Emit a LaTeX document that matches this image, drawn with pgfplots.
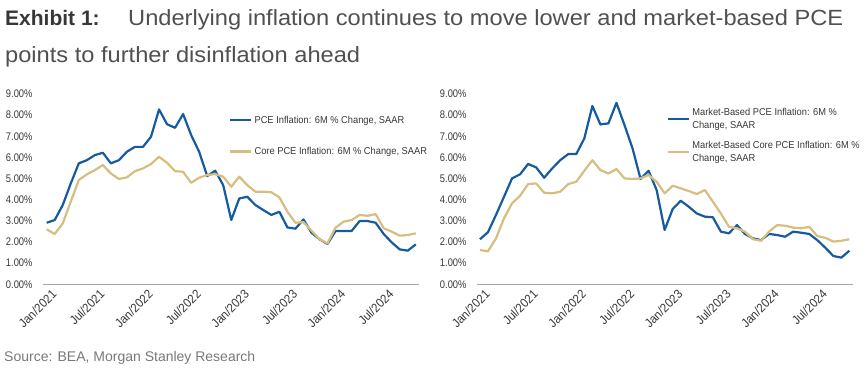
\documentclass[border=0pt]{standalone}
\usepackage{pgfplots}
\pgfplotsset{compat=1.18}
\usepackage{pgfplotstable}
\usepackage{fontspec}
\setmainfont{Liberation Sans}
\newfontfamily\narrow[FakeStretch=0.85]{Liberation Sans}
\newfontfamily\legfont[FakeStretch=0.93]{Liberation Sans}
\newfontfamily\xfont[FakeStretch=0.92]{Liberation Sans}
\newfontfamily\titlefont[FakeStretch=1.075]{Liberation Sans}
\definecolor{msblue}{RGB}{22,90,160}
\definecolor{msgold}{RGB}{213,190,128}
\definecolor{axgray}{RGB}{166,166,166}
\definecolor{txt}{RGB}{55,55,55}
\definecolor{ttl}{RGB}{80,80,80}
\definecolor{srcgray}{RGB}{120,120,120}

\pgfplotstableread{
m pce core
0 2.91 2.60
1 3.04 2.38
2 3.75 2.88
3 4.77 3.91
4 5.72 4.93
5 5.87 5.20
6 6.11 5.40
7 6.22 5.64
8 5.72 5.24
9 5.87 4.98
10 6.27 5.06
11 6.50 5.35
12 6.50 5.48
13 6.98 5.69
14 8.27 6.03
15 7.57 5.75
16 7.40 5.35
17 8.05 5.32
18 7.06 4.80
19 6.27 5.04
20 5.12 5.17
21 5.37 5.21
22 4.69 5.09
23 3.04 4.61
24 4.06 5.09
25 4.14 4.69
26 3.75 4.38
27 3.51 4.38
28 3.28 4.35
29 3.43 4.11
30 2.69 3.43
31 2.63 2.91
32 3.07 2.94
33 2.44 2.54
34 2.13 2.13
35 1.91 1.94
36 2.52 2.68
37 2.52 2.96
38 2.52 3.04
39 2.99 3.28
40 2.99 3.24
41 2.91 3.32
42 2.38 2.65
43 1.98 2.49
44 1.65 2.30
45 1.59 2.33
46 1.89 2.41
}\lefttab

\pgfplotstableread{
m pce core
0 2.13 1.62
1 2.46 1.56
2 3.28 2.17
3 4.14 3.12
4 5.01 3.83
5 5.20 4.19
6 5.69 4.74
7 5.53 4.77
8 5.04 4.33
9 5.48 4.30
10 5.87 4.38
11 6.16 4.74
12 6.16 4.85
13 6.90 5.37
14 8.43 5.87
15 7.56 5.40
16 7.61 5.24
17 8.58 5.45
18 7.53 5.01
19 6.43 4.98
20 4.98 5.01
21 5.37 5.17
22 4.46 4.85
23 2.57 4.30
24 3.56 4.66
25 3.95 4.54
26 3.67 4.41
27 3.35 4.27
28 3.20 4.46
29 3.17 3.91
30 2.49 3.35
31 2.41 2.72
32 2.80 2.65
33 2.38 2.49
34 2.17 2.13
35 2.09 2.06
36 2.38 2.49
37 2.33 2.80
38 2.25 2.77
39 2.49 2.68
40 2.44 2.65
41 2.38 2.72
42 2.09 2.28
43 1.73 2.20
44 1.34 2.02
45 1.26 2.06
46 1.59 2.13
}\righttab

\pgfplotsset{
  msaxis/.style={
    scale only axis, width=376.3pt, height=190.3pt,
    xmin=-0.5, xmax=46.4, ymin=0, ymax=9,
    ytick={0,1,...,9},
    xtick={0,6,...,42},
    xticklabels={Jan/2021,Jul/2021,Jan/2022,Jul/2022,Jan/2023,Jul/2023,Jan/2024,Jul/2024},
    axis x line*=bottom, axis y line*=left,
    y axis line style={draw=none},
    x axis line style={axgray, line width=1.5pt},
    major tick length=0pt,
    /pgf/number format/assume math mode=true,
    yticklabel={\pgfmathprintnumber[fixed,fixed zerofill,precision=2]{\tick}\%},
    yticklabel style={font=\narrow\fontsize{11}{13}\selectfont, text=txt, anchor=east, inner sep=0pt, xshift=-10pt},
    xticklabel style={font=\xfont\fontsize{12.5}{14}\selectfont, text=txt, rotate=45, anchor=north east, inner sep=0pt, yshift=-6pt},
    clip=false,
    legend cell align=left,
    legend style={draw=none, fill=none, inner sep=0pt,
      font=\legfont\fontsize{10}{12.7}\selectfont, text=txt,
      cells={align=left}},
    legend image code/.code={\draw[#1, line width=2.4pt] (0pt,0pt) -- (21pt,0pt);},
  }
}

\begin{document}
\begin{tikzpicture}
\path[use as bounding box] (0,0) rectangle (867pt,374pt);

\node[anchor=base west, inner sep=0pt, font=\fontsize{21}{24}\selectfont\bfseries, text=txt] at (5pt,348pt) {Exhibit 1:};
\node[anchor=base west, inner sep=0pt, font=\titlefont\fontsize{22}{26}\selectfont, text=ttl] at (128pt,348pt) {Underlying inflation continues to move lower and market-based PCE};
\node[anchor=base west, inner sep=0pt, font=\titlefont\fontsize{22}{26}\selectfont, text=ttl] at (5pt,311pt) {points to further disinflation ahead};
\node[anchor=base west, inner sep=0pt, font=\fontsize{14}{16}\selectfont, text=srcgray] at (4pt,12pt) {Source: BEA, Morgan Stanley Research};

\begin{axis}[msaxis, at={(42.7pt,89.7pt)}, anchor=south west,
  legend style={at={(0.495,0.897)}, anchor=north west, row sep=18.5pt}]
\addplot[msblue, line width=2.2pt, line join=round] table[x=m,y=pce]{\lefttab};
\addlegendentry{PCE Inflation: 6M \% Change, SAAR}
\addplot[msgold, line width=2.2pt, line join=round] table[x=m,y=core]{\lefttab};
\addlegendentry{Core PCE Inflation: 6M \% Change, SAAR}
\end{axis}

\begin{axis}[msaxis, at={(476.7pt,89.7pt)}, anchor=south west, xmin=-0.4, xmax=46.45,
  legend style={at={(0.505,0.935)}, anchor=north west, row sep=7.5pt}]
\addplot[msblue, line width=2.2pt, line join=round] table[x=m,y=pce]{\righttab};
\addlegendentry{Market-Based PCE Inflation: 6M \%\\Change, SAAR}
\addplot[msgold, line width=2.2pt, line join=round] table[x=m,y=core]{\righttab};
\addlegendentry{Market-Based Core PCE Inflation: 6M \%\\Change, SAAR}
\end{axis}
\end{tikzpicture}
\end{document}
